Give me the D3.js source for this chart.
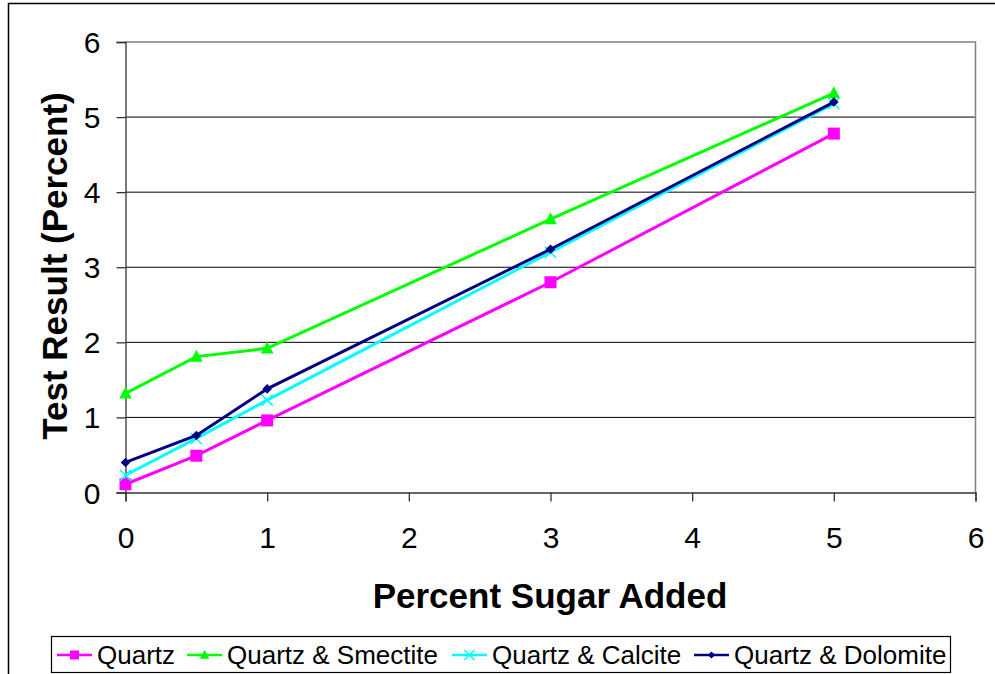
<!DOCTYPE html>
<html>
<head>
<meta charset="utf-8">
<script src="https://cdn.jsdelivr.net/npm/d3@7"></script>
<style>
body { margin: 0; background: #fff; }
text { font-family: "Liberation Sans", Arial, sans-serif; }
.tick text { font-size: 30px; }
</style>
</head>
<body>
<div id="chart"></div>
<script>
// data
const sugar = [0, 0.5, 1, 3, 5];
const quartz = [0.11, 0.49, 0.96, 2.8, 4.78];
const smectite = [1.32, 1.81, 1.92, 3.64, 5.32];
const calcite = [0.23, 0.72, 1.23, 3.2, 5.18];
const dolomite = [0.4, 0.76, 1.38, 3.24, 5.2];
const seriesNames = ['Quartz', 'Quartz & Smectite', 'Quartz & Calcite', 'Quartz & Dolomite'];
const xTicks = [0, 1, 2, 3, 4, 5, 6];
const yTicks = [0, 1, 2, 3, 4, 5, 6];

const width = 995, height = 674;
const plotL = 125.5, plotR = 975.5, plotT = 42, plotB = 492.5;

const series = [
    {name: seriesNames[0], vals: quartz, color: '#ff00ff', marker: 'square'},
    {name: seriesNames[1], vals: smectite, color: '#00ff00', marker: 'triangle'},
    {name: seriesNames[2], vals: calcite, color: '#00ffff', marker: 'cross'},
    {name: seriesNames[3], vals: dolomite, color: '#000080', marker: 'diamond'}
];

const svg = d3.select('#chart')
                .append('svg')
                .attr('width', width)
                .attr('height', height);

// outer frame
svg.append('rect')
    .attr('x', 8.5).attr('y', 3.5)
    .attr('width', 1000).attr('height', 700)
    .attr('fill', 'none')
    .attr('stroke', '#000')
    .attr('stroke-width', 1.5);

let scaleX = d3.scaleLinear().domain([0, 6]).range([plotL, plotR]);
let scaleY = d3.scaleLinear().domain([0, 6]).range([plotB, plotT]);

// gridlines
svg.append('g')
    .selectAll('line')
    .data(yTicks.filter(d => d > 0 && d < 6))
    .enter()
    .append('line')
    .attr('x1', plotL).attr('x2', plotR)
    .attr('y1', d => scaleY(d)).attr('y2', d => scaleY(d))
    .attr('stroke', '#000')
    .attr('stroke-width', 1);

// plot border top / right
svg.append('path')
    .attr('d', `M${plotL},${plotT}H${plotR}V${plotB}`)
    .attr('fill', 'none')
    .attr('stroke', '#808080')
    .attr('stroke-width', 1.5);

let xAxis = d3.axisBottom(scaleX).tickValues(xTicks).tickSize(9).tickPadding(25).tickFormat(d3.format('d'));
let yAxis = d3.axisLeft(scaleY).tickValues(yTicks).tickSize(9).tickPadding(16).tickFormat(d3.format('d'));

var xAxisGroup = svg.append('g')
    .attr('transform', 'translate(0,' + plotB + ')')
    .call(xAxis);
var yAxisGroup = svg.append('g')
    .attr('transform', 'translate(' + plotL + ',0)')
    .call(yAxis);

[xAxisGroup, yAxisGroup].forEach(g => {
    g.attr('font-size', 30).attr('font-family', null);
    g.select('.domain').attr('stroke', '#333').attr('stroke-width', 1.3);
    g.selectAll('.tick line').attr('stroke', '#333').attr('stroke-width', 1.3);
    g.selectAll('.tick text')
        .attr('font-size', 30)
        .attr('fill', '#000');
});
yAxisGroup.selectAll('.tick text').attr('dy', '0.35em');

// axis titles
svg.append('text')
    .attr('x', 550)
    .attr('y', 608)
    .style('text-anchor', 'middle')
    .style('font-size', '35px')
    .style('font-weight', 'bold')
    .text('Percent Sugar Added');

svg.append('text')
    .attr('transform', 'translate(67,266) rotate(-90)')
    .style('text-anchor', 'middle')
    .style('font-size', '35px')
    .style('font-weight', 'bold')
    .text('Test Result (Percent)');

function drawMarker(g, type, color, x, y, s) {
    if (type == 'square') {
        g.append('rect').attr('x', x - s).attr('y', y - s)
            .attr('width', 2 * s).attr('height', 2 * s).attr('fill', color);
    } else if (type == 'triangle') {
        g.append('path')
            .attr('d', `M${x},${y - s * 1.15}L${x + s * 1.05},${y + s * 0.85}L${x - s * 1.05},${y + s * 0.85}Z`)
            .attr('fill', color);
    } else if (type == 'cross') {
        g.append('path')
            .attr('d', `M${x - s},${y - s}L${x + s},${y + s}M${x - s},${y + s}L${x + s},${y - s}`)
            .attr('stroke', color).attr('stroke-width', 1.5).attr('fill', 'none');
    } else if (type == 'diamond') {
        const d = s * 0.8;
        g.append('path')
            .attr('d', `M${x},${y - d}L${x + d},${y}L${x},${y + d}L${x - d},${y}Z`)
            .attr('fill', color);
    }
}

let line = d3.line().x(d => scaleX(d[0])).y(d => scaleY(d[1]));

series.forEach(s => {
    const pts = sugar.map((x, i) => [x, s.vals[i]]);
    const g = svg.append('g');
    g.append('path')
        .attr('d', line(pts))
        .attr('fill', 'none')
        .attr('stroke', s.color)
        .attr('stroke-width', 3);
    pts.forEach(p => {
        const size = s.marker == 'cross' ? 5.5 : 6;
        drawMarker(g, s.marker, s.color, scaleX(p[0]), scaleY(p[1]), size);
    });
});

// legend
const legend = svg.append('g');
legend.append('rect')
    .attr('x', 51.5).attr('y', 636.5)
    .attr('width', 899).attr('height', 36)
    .attr('fill', '#fff')
    .attr('stroke', '#000')
    .attr('stroke-width', 1.2);

const legendX = [57, 187, 452, 694];
series.forEach((s, i) => {
    const x0 = legendX[i], cy = 655;
    legend.append('line')
        .attr('x1', x0).attr('x2', x0 + 35)
        .attr('y1', cy).attr('y2', cy)
        .attr('stroke', s.color).attr('stroke-width', 2.5);
    drawMarker(legend, s.marker, s.color, x0 + 17.5, cy, s.marker == 'cross' ? 5 : 4.5);
    legend.append('text')
        .attr('x', x0 + 40)
        .attr('y', cy + 9)
        .style('font-size', '26px')
        .text(s.name);
});
</script>
</body>
</html>
